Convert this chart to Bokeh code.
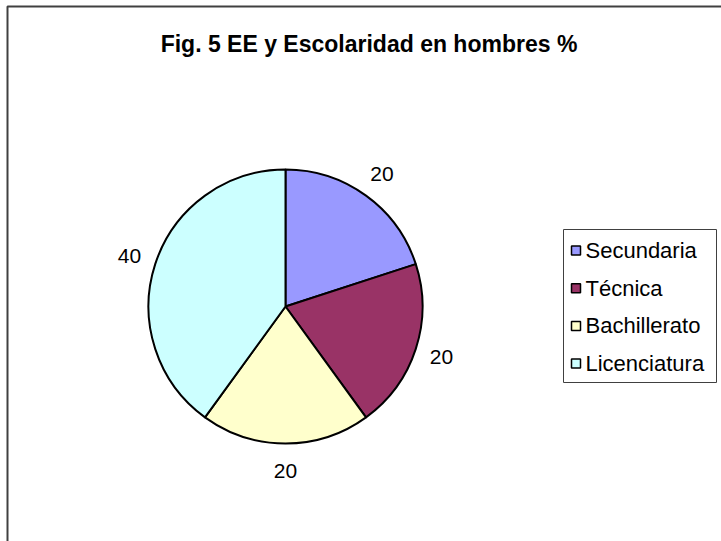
import math
from bokeh.plotting import figure
from bokeh.models import Range1d, ColumnDataSource
from bokeh.core.properties import value
from bokeh.embed import file_html
from bokeh.resources import INLINE

# ---- data ----
categories = ["Secundaria", "Técnica", "Bachillerato", "Licenciatura"]
values = [20, 20, 20, 40]
colors = ["#9999FF", "#993366", "#FFFFCC", "#CCFFFF"]
title_text = "Fig. 5 EE y Escolaridad en hombres %"

W, H = 721, 541
FONT = "Liberation Sans"


def px(x):
    return x


def py(y):
    return H - y


p = figure(width=W, height=H, x_range=Range1d(0, W), y_range=Range1d(0, H),
           output_backend="svg", toolbar_location=None, min_border=0,
           x_axis_type=None, y_axis_type=None)
p.grid.visible = False
p.outline_line_color = None
p.background_fill_color = "white"
p.border_fill_color = "white"

# outer chart frame (left and top edges visible)
p.line(x=[px(7), px(7), W + 5], y=[-5, py(6), py(6)], line_color="#404040", line_width=2)

# title
p.text(x=[px(368.5)], y=[py(43)], text=[title_text], text_font=value(FONT),
       text_font_size="23px", text_font_style="bold", text_align="center",
       text_baseline="alphabetic", text_color="black")

# pie
total = float(sum(values))
cx, cy = px(285), py(306)
R = 137
starts, ends, mids = [], [], []
cum = 0.0
for v in values:
    a0 = math.pi / 2 - 2 * math.pi * cum / total
    cum += v
    a1 = math.pi / 2 - 2 * math.pi * cum / total
    starts.append(a0)
    ends.append(a1)
    mids.append((a0 + a1) / 2)

src = ColumnDataSource(dict(start=starts, end=ends, color=colors, cat=categories))
p.wedge(x=cx, y=cy, radius=R, radius_units="screen", start_angle="start",
        end_angle="end", direction="clock", fill_color="color",
        line_color="black", line_width=2, source=src)

# data labels
LR = 164
lx = [cx + LR * math.cos(m) for m in mids]
ly = [cy + LR * math.sin(m) for m in mids]
p.text(x=lx, y=ly, text=[str(v) for v in values], text_font=value(FONT),
       text_font_size="21px", text_align="center", text_baseline="middle",
       text_color="black")

# legend
p.quad(left=[px(563)], right=[px(716)], top=[py(229)], bottom=[py(382)],
       fill_color="white", line_color="#404040", line_width=1)
row0, step = 250, 37.7
rows_y = [py(row0 + i * step) for i in range(len(categories))]
p.rect(x=[px(575.5)] * len(categories), y=rows_y, width=9, height=9,
       width_units="screen", height_units="screen", fill_color=colors,
       line_color="black", line_width=1.5)
p.text(x=[px(585)] * len(categories), y=rows_y, text=categories,
       text_font=value(FONT), text_font_size="22px", text_align="left",
       text_baseline="middle", text_color="black")

open("out.html", "w").write(file_html(p, INLINE))
